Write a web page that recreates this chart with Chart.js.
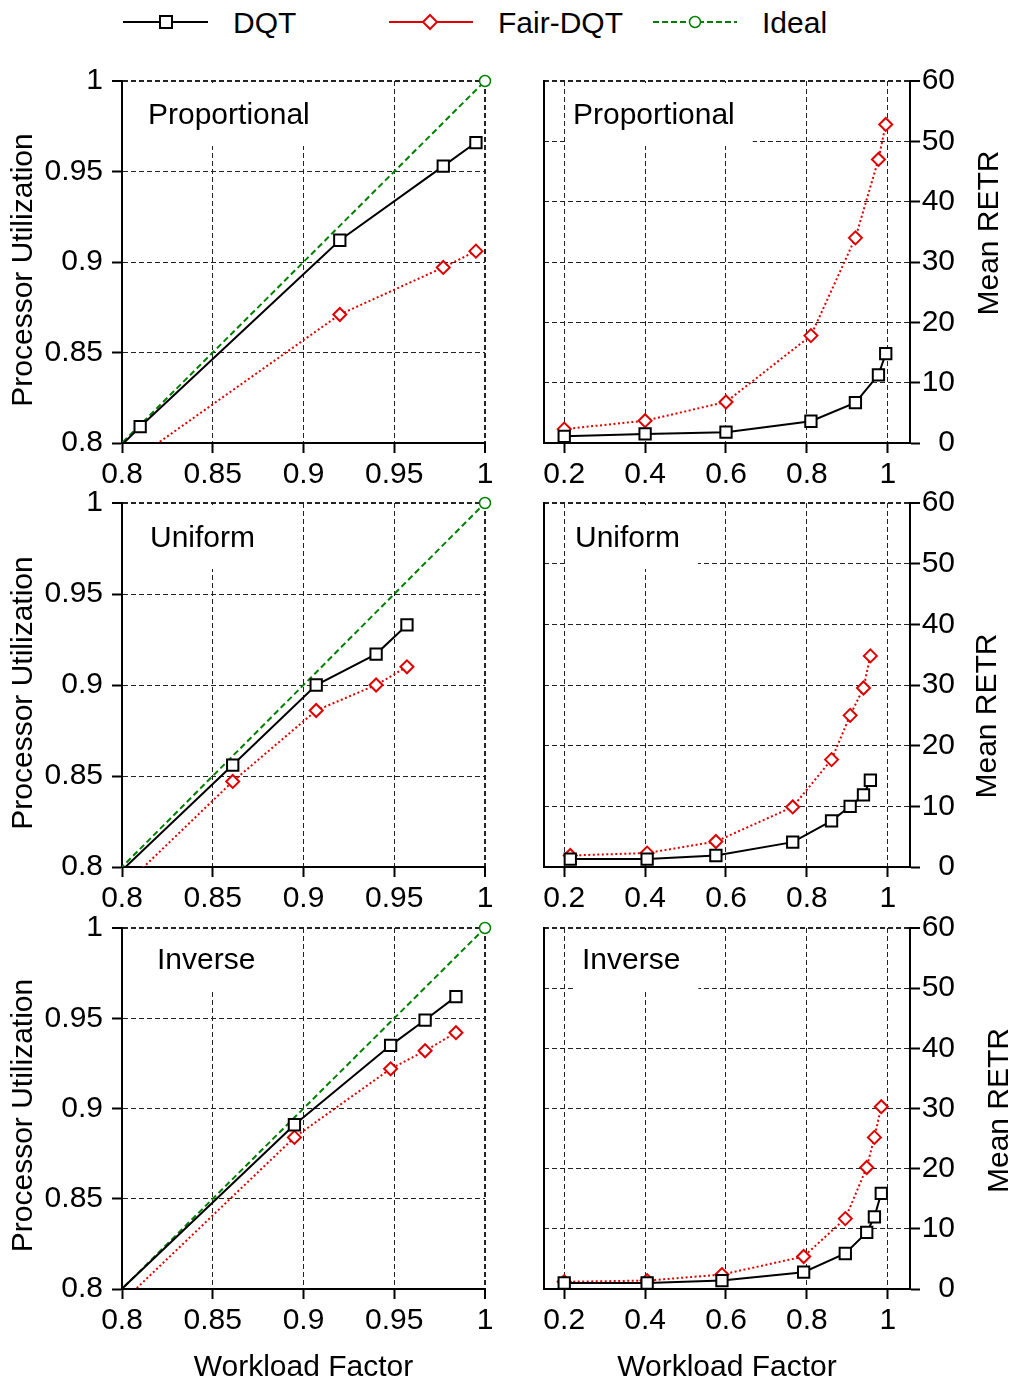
<!DOCTYPE html>
<html>
<head>
<meta charset="utf-8">
<title>DQT vs Fair-DQT</title>
<script src="https://cdn.jsdelivr.net/npm/chart.js@4.4.1/dist/chart.umd.min.js"></script>
<style>
  html, body { margin: 0; padding: 0; background: #fff; }
  body { width: 1018px; height: 1387px; position: relative; overflow: hidden;
         font-family: "Liberation Sans", Arial, sans-serif; }
  canvas { position: absolute; }
  #legend { position: absolute; left: 0; top: 0; }
</style>
</head>
<body>
<svg id="legend" width="1018" height="50" xmlns="http://www.w3.org/2000/svg"
     font-family="Liberation Sans, Arial, sans-serif" font-size="30">
  <line x1="123" y1="22" x2="208" y2="22" stroke="#000" stroke-width="2"/>
  <rect x="160" y="16" width="12" height="12" fill="#fff" stroke="#000" stroke-width="2"/>
  <text x="233" y="32.5" fill="#000">DQT</text>
  <line x1="389" y1="22" x2="473" y2="22" stroke="#e00000" stroke-width="2"/>
  <polygon points="430,15 437,22 430,29 423,22" fill="#fff" stroke="#e00000" stroke-width="2"/>
  <text x="498" y="32.5" fill="#000">Fair-DQT</text>
  <line x1="653" y1="22" x2="737" y2="22" stroke="#008000" stroke-width="2" stroke-dasharray="6,3"/>
  <circle cx="695" cy="22" r="5.5" fill="#fff" stroke="#008000" stroke-width="1.5"/>
  <text x="762" y="32.5" fill="#000">Ideal</text>
</svg>

<canvas id="u0" width="509" height="445" style="left:0;top:50px"></canvas>
<canvas id="r0" width="509" height="445" style="left:509px;top:50px"></canvas>
<canvas id="u1" width="509" height="445" style="left:0;top:475px"></canvas>
<canvas id="r1" width="509" height="445" style="left:509px;top:475px"></canvas>
<canvas id="u2" width="509" height="487" style="left:0;top:900px"></canvas>
<canvas id="r2" width="509" height="487" style="left:509px;top:900px"></canvas>

<script>
// ---- data -------------------------------------------------------------
const distributions = ['Proportional', 'Uniform', 'Inverse'];

// Proportional
const propWorkload = [0.2, 0.4, 0.6, 0.81, 0.92, 0.977, 0.995];
const propUtilDQT  = [0.2, 0.4, 0.6, 0.809, 0.912, 0.953, 0.966];
const propUtilFair = [0.2, 0.4, 0.59, 0.793, 0.871, 0.897, 0.906];
const propRetrDQT  = [1.1, 1.5, 1.8, 3.6, 6.7, 11.3, 14.8];
const propRetrFair = [2.3, 3.7, 6.8, 17.8, 34.0, 47.0, 52.8];

// Uniform
const unifWorkload = [0.215, 0.405, 0.575, 0.765, 0.861, 0.907, 0.94, 0.957];
const unifUtilDQT  = [0.215, 0.405, 0.575, 0.765, 0.856, 0.900, 0.917, 0.933];
const unifUtilFair = [0.21, 0.40, 0.57, 0.755, 0.847, 0.886, 0.900, 0.910];
const unifRetrDQT  = [1.3, 1.3, 1.9, 4.1, 7.6, 10.0, 11.9, 14.3];
const unifRetrFair = [1.9, 2.3, 4.2, 9.9, 17.7, 25.0, 29.5, 34.8];

// Inverse
const invWorkload = [0.2, 0.405, 0.59, 0.792, 0.895, 0.948, 0.967, 0.984];
const invUtilDQT  = [0.2, 0.405, 0.59, 0.7925, 0.891, 0.935, 0.949, 0.962];
const invUtilFair = [0.2, 0.40, 0.585, 0.785, 0.884, 0.922, 0.932, 0.942];
const invRetrDQT  = [1.0, 1.0, 1.4, 2.8, 5.9, 9.4, 12.0, 15.9];
const invRetrFair = [1.2, 1.4, 2.4, 5.4, 11.7, 20.2, 25.2, 30.3];

// Ideal utilisation line (utilisation equals workload)
const idealLoad = [0.2, 1];
const idealUtil = [0.2, 1];

// tick labels
const utilTicks     = [0.8, 0.85, 0.9, 0.95, 1];
const loadTicksZoom = [0.8, 0.85, 0.9, 0.95, 1];
const loadTicksFull = [0.2, 0.4, 0.6, 0.8, 1];
const retrTicks     = [0, 10, 20, 30, 40, 50, 60];

// ---- look & feel ------------------------------------------------------
const FONT = '"Liberation Sans", Arial, sans-serif';
const FONT_SIZE = 30;
Chart.defaults.font.family = FONT;
Chart.defaults.font.size = FONT_SIZE;
Chart.defaults.color = '#000';

const BLACK = '#000000', RED = '#e00000', GREEN = '#008000';

const series = {
  Proportional: { load: propWorkload, uD: propUtilDQT, uF: propUtilFair, rD: propRetrDQT, rF: propRetrFair },
  Uniform:      { load: unifWorkload, uD: unifUtilDQT, uF: unifUtilFair, rD: unifRetrDQT, rF: unifRetrFair },
  Inverse:      { load: invWorkload,  uD: invUtilDQT,  uF: invUtilFair,  rD: invRetrDQT,  rF: invRetrFair }
};

// row geometry (canvas placement and plot area in page pixels)
const rows = [
  { top: 50,  height: 445, areaTop: 81,  areaBottom: 443,  axisH: 47, lx: 26, rx: 29, base: 43,
    leftCap: { dx: -98, dy: 8 }, rightCap: { dx: 80, dy: -29 } },
  { top: 475, height: 445, areaTop: 503, areaBottom: 867,  axisH: 47, lx: 28, rx: 31, base: 44,
    leftCap: { dx: -98, dy: 8 }, rightCap: { dx: 78, dy: 31 } },
  { top: 900, height: 487, areaTop: 928, areaBottom: 1289, axisH: 98, lx: 35, rx: 38, base: 41,
    leftCap: { dx: -98, dy: 7 }, rightCap: { dx: 90, dy: 2 } }
];

const pts = (xs, ys) => xs.map((x, i) => ({ x, y: ys[i] }));
const fixedTicks = list => scale => { scale.ticks = list.map(v => ({ value: v })); };

// panel name drawn on a white box in the upper-left corner of the plot
const panelLabel = {
  id: 'panelLabel',
  beforeDatasetsDraw(chart, args, opts) {
    if (!opts.text) return;
    const { ctx, chartArea } = chart;
    ctx.save();
    ctx.font = FONT_SIZE + 'px ' + FONT;
    const x = chartArea.left + opts.dx;
    const w = ctx.measureText(opts.text).width;
    ctx.fillStyle = '#fff';
    ctx.fillRect(x - 8, chartArea.top + 2, w + 26, opts.base + 20);
    ctx.fillStyle = '#000';
    ctx.textBaseline = 'alphabetic';
    ctx.textAlign = 'left';
    ctx.fillText(opts.text, x, chartArea.top + opts.base);
    ctx.restore();
  }
};

// rotated axis captions beside the plot (left and/or right)
const axisCaptions = {
  id: 'axisCaptions',
  afterDraw(chart, args, opts) {
    const { ctx, chartArea } = chart;
    const midY = (chartArea.top + chartArea.bottom) / 2;
    (opts.items || []).forEach(it => {
      const x0 = it.side === 'left' ? chartArea.left : chartArea.right;
      ctx.save();
      ctx.translate(x0 + it.dx, midY + it.dy);
      ctx.rotate(-Math.PI / 2);
      ctx.font = FONT_SIZE + 'px ' + FONT;
      ctx.fillStyle = '#000';
      ctx.textAlign = 'center';
      ctx.textBaseline = 'middle';
      ctx.fillText(it.text, 0, 0);
      ctx.restore();
    });
  }
};

function grid(maxValue) {
  return {
    color: '#222',
    lineWidth: c => (c.tick && c.tick.value === maxValue ? 2 : 1),
    drawTicks: true,
    tickLength: 10,
    tickColor: '#000',
    tickWidth: 2,
    tickBorderDash: []
  };
}
const border = { display: true, color: '#000', width: 2, dash: [5, 3] };

function dqtSet(data) {
  return {
    label: 'DQT', data, yAxisID: 'y',
    borderColor: BLACK, borderWidth: 2, tension: 0,
    pointStyle: 'rect', pointRadius: 8, pointBorderWidth: 2,
    pointBackgroundColor: '#fff', pointBorderColor: BLACK
  };
}
function fairSet(data) {
  return {
    label: 'Fair-DQT', data, yAxisID: 'y',
    borderColor: RED, borderWidth: 2, borderDash: [2, 2.5], tension: 0,
    pointStyle: 'rectRot', pointRadius: 6.5, pointBorderWidth: 2,
    pointBackgroundColor: '#fff', pointBorderColor: RED
  };
}
function idealSet() {
  return {
    label: 'Ideal', data: pts(idealLoad, idealUtil), yAxisID: 'y',
    borderColor: GREEN, borderWidth: 2, borderDash: [6, 3.5], tension: 0,
    pointStyle: 'circle', pointRadius: 5.5, pointBorderWidth: 1.5,
    pointBackgroundColor: '#fff', pointBorderColor: GREEN,
    clip: { left: 0, top: 10, right: 10, bottom: 0 }
  };
}

function common(row, padLeft, padRight) {
  const padTop = row.areaTop - row.top;
  const padBottom = row.height - padTop - (row.areaBottom - row.areaTop) - row.axisH;
  return {
    responsive: false, animation: false, devicePixelRatio: 1,
    layout: { padding: { left: padLeft, right: padRight, top: padTop, bottom: padBottom } },
    events: []
  };
}

distributions.forEach((name, r) => {
  const row = rows[r];
  const s = series[name];
  const last = r === rows.length - 1;
  const xTitle = { display: last, text: 'Workload Factor', padding: { top: 0, bottom: 1 } };

  // utilisation panel
  new Chart(document.getElementById('u' + r), {
    type: 'line',
    data: { datasets: [dqtSet(pts(s.load, s.uD)), fairSet(pts(s.load, s.uF)), idealSet()] },
    plugins: [panelLabel, axisCaptions],
    options: Object.assign(common(row, 0, 24), {
      plugins: {
        legend: { display: false }, tooltip: { enabled: false },
        panelLabel: { text: name, dx: row.lx, base: row.base },
        axisCaptions: { items: [{ side: 'left', text: 'Processor Utilization', dx: row.leftCap.dx, dy: row.leftCap.dy }] }
      },
      scales: {
        x: {
          type: 'linear', position: 'bottom', min: 0.8, max: 1,
          afterBuildTicks: fixedTicks(loadTicksZoom),
          afterFit: sc => { sc.height = row.axisH; },
          grid: grid(1), border,
          ticks: { padding: 4, autoSkip: false, maxRotation: 0, callback: v => String(v) },
          title: xTitle
        },
        y: {
          type: 'linear', position: 'left', min: 0.8, max: 1,
          afterBuildTicks: fixedTicks(utilTicks),
          afterFit: sc => { sc.width = 122; },
          grid: grid(1), border,
          ticks: { padding: 9, autoSkip: false, callback: v => String(v) }
        }
      }
    })
  });

  // retransmission panel
  new Chart(document.getElementById('r' + r), {
    type: 'line',
    data: { datasets: [dqtSet(pts(s.load, s.rD)), fairSet(pts(s.load, s.rF))] },
    plugins: [panelLabel, axisCaptions],
    options: Object.assign(common(row, 0, 63), {
      plugins: {
        legend: { display: false }, tooltip: { enabled: false },
        panelLabel: { text: name, dx: row.rx, base: row.base },
        axisCaptions: { items: [{ side: 'right', text: 'Mean RETR', dx: row.rightCap.dx, dy: row.rightCap.dy }] }
      },
      scales: {
        x: {
          type: 'linear', position: 'bottom', min: 0.15, max: 1.055,
          afterBuildTicks: fixedTicks(loadTicksFull),
          afterFit: sc => { sc.height = row.axisH; },
          grid: grid(null), border,
          ticks: { padding: 4, autoSkip: false, maxRotation: 0, callback: v => String(v) },
          title: xTitle
        },
        yL: {
          type: 'linear', position: 'left', min: 0, max: 60,
          afterFit: sc => { sc.width = 35; },
          grid: { display: false, drawTicks: false },
          border: { display: true, color: '#000', width: 2 },
          ticks: { display: false }
        },
        y: {
          type: 'linear', position: 'right', min: 0, max: 60,
          afterBuildTicks: fixedTicks(retrTicks),
          afterFit: sc => { sc.width = 45; },
          grid: grid(60), border,
          ticks: { padding: 2, crossAlign: 'far', autoSkip: false, callback: v => String(v) }
        }
      }
    })
  });
});
</script>
</body>
</html>
